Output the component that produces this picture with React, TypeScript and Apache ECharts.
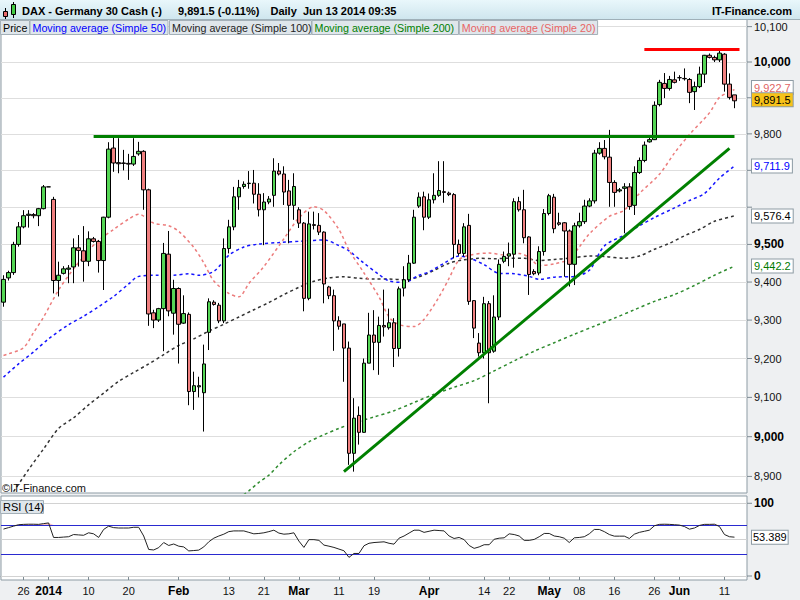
import React, { useEffect, useRef } from 'react';
import * as echarts from 'echarts';

// ---------- categories (daily sessions incl. Sunday sessions) ----------
const dec2013 = [20, 22, 23, 24, 26, 27, 29, 30, 31];
const jan2014 = [1, 2, 3, 5, 6, 7, 8, 9, 10, 12, 13, 14, 15, 16, 17, 19, 20, 21, 22, 23, 24, 27, 28, 29, 30, 31];
const feb2014 = [2, 3, 4, 5, 6, 7, 9, 10, 11, 12, 13, 14, 16, 17, 18, 19, 20, 21, 23, 24, 25, 26, 27, 28];
const mar2014 = [2, 3, 4, 5, 6, 7, 9, 10, 11, 12, 13, 14, 16, 17, 18, 19, 20, 21, 23, 24, 25, 26, 27, 28, 30, 31];
const apr2014 = [1, 2, 3, 4, 6, 7, 8, 9, 10, 11, 13, 14, 15, 16, 17, 21, 22, 23, 24, 25, 27, 28, 29, 30];
const may2014 = [1, 2, 4, 5, 6, 7, 8, 9, 11, 12, 13, 14, 15, 16, 18, 19, 20, 21, 22, 23, 25, 26, 27, 28, 29, 30];
const jun2014 = [1, 2, 3, 4, 5, 6, 8, 9, 10, 11, 12, 13];
const padDays = ['2014-06-15', '2014-06-16'];

// ---------- x tick labels ----------
const tickDates = ['2013-12-26', '2014-01-01', '2014-01-10', '2014-01-20', '2014-02-02', '2014-02-13', '2014-02-21', '2014-03-02', '2014-03-11', '2014-03-19', '2014-04-01', '2014-04-14', '2014-04-22', '2014-05-01', '2014-05-08', '2014-05-16', '2014-05-26', '2014-06-01', '2014-06-11'];
const tickTexts = ['26', '2014', '10', '20', 'Feb', '13', '21', 'Mar', '11', '19', 'Apr', '14', '22', 'May', '08', '16', '26', 'Jun', '11'];
const boldTickTexts = ['2014', 'Feb', 'Mar', 'Apr', 'May', 'Jun'];

// ---------- price OHLC ----------
const opens = [9347,9411,9425,9500,9547,9578,9580,9577,9596,9655, 9621,9404,9423,9434,9440,9491,9483,9455,9515,9508, 9457,9573,9761,9721,9720,9719,9717,9745,9752,9647, 9319,9300,9330,9474,9318,9383,9292,9315,9115,9127, 9112,9268,9347,9339,9298,9489,9547,9628,9656,9664, 9665,9635,9593,9614,9632,9698,9690,9644,9605,9593, 9557,9357,9553,9551,9533,9387,9364,9298,9290,9227, 8958,9054,9011,9188,9261,9242,9286,9280,9293,9226, 9384,9406,9450,9603,9628,9573,9620,9632,9642,9638, 9634,9500,9476,9551,9351,9240,9215,9343,9219,9308, 9455,9469,9474,9615,9593,9520,9428,9424,9481,9583, 9627,9558,9558,9536,9447,9550,9561,9603,9617,9747, 9760,9736,9667,9644,9651,9655,9605,9694,9727,9778, 9784,9881,9940,9926,9950,9956,9954,9951,9917,9931, 9966,10019,10013,10006,10022,9938,9908];
const closes = [9407,9425,9500,9547,9577,9581,9577,9596,9655,9655, 9404,9418,9435,9437,9491,9484,9455,9515,9508,9457, 9573,9758,9720,9718,9719,9717,9738,9752,9647,9316, 9300,9330,9476,9324,9383,9289,9317,9115,9130,9130, 9186,9348,9341,9298,9489,9547,9628,9653,9662,9665, 9635,9593,9614,9622,9698,9690,9641,9605,9656,9557, 9357,9555,9551,9533,9395,9364,9298,9284,9227,8958, 9047,9011,9188,9261,9242,9286,9282,9293,9226,9382, 9406,9450,9573,9627,9573,9620,9632,9645,9640,9634, 9500,9476,9547,9349,9279,9215,9343,9215,9308,9447, 9468,9475,9615,9593,9518,9420,9422,9481,9583,9631, 9542,9554,9536,9447,9550,9561,9603,9617,9747,9760, 9737,9667,9640,9647,9655,9602,9694,9727,9769,9784, 9879,9943,9926,9951,9943,9956,9953,9915,9931,9966, 10019,10013,10006,10025,9938,9901,9891.5];
const lows = [9335,9404,9419,9494,9543,9545,9570,9549,9594,9655, 9370,9362,9420,9397,9397,9441,9401,9442,9505,9425, 9379,9570,9696,9692,9700,9674,9712,9740,9593,9285, 9279,9295,9219,9310,9262,9187,9290,9080,9068,9100, 9013,9222,9338,9292,9292,9476,9538,9593,9650,9650, 9610,9575,9498,9608,9601,9686,9606,9503,9566,9544, 9323,9352,9540,9525,9344,9355,9220,9275,9140,8929, 8912,8980,9010,9188,9170,9158,9257,9275,9178,9205, 9362,9400,9448,9598,9538,9568,9610,9628,9612,9630, 9463,9470,9468,9340,9253,9205,9200,9085,9215,9300, 9450,9442,9438,9588,9503,9366,9418,9418,9470,9578, 9530,9550,9414,9388,9392,9545,9555,9600,9610,9743, 9730,9601,9601,9640,9530,9593,9579,9690,9722,9776, 9783,9876,9899,9920,9940,9947,9948,9885,9866,9927, 9941,10010,10000,10000,9917,9895,9871];
const highs = [9418,9430,9507,9560,9592,9592,9584,9598,9660,9655, 9628,9454,9442,9445,9516,9525,9549,9535,9520,9512, 9574,9777,9792,9788,9756,9745,9788,9778,9755,9650, 9327,9332,9504,9536,9406,9386,9365,9320,9166,9153, 9236,9357,9352,9345,9516,9566,9655,9674,9670,9698, 9701,9665,9638,9630,9733,9720,9711,9674,9692,9600, 9560,9588,9588,9584,9535,9390,9380,9310,9290,9244, 9098,9077,9200,9319,9326,9309,9380,9330,9305,9388, 9442,9472,9593,9640,9642,9637,9692,9725,9725,9642, 9638,9513,9557,9582,9352,9266,9361,9350,9365,9460, 9481,9505,9624,9628,9647,9522,9434,9495,9595,9636, 9636,9585,9560,9540,9558,9585,9620,9624,9756,9777, 9783,9811,9673,9652,9665,9665,9711,9735,9779,9791, 9890,9950,9969,9961,9973,9963,9982,9955,9945,9987, 10020,10024,10018,10034,10025,9968,9908];

// ---------- moving averages: [session index, value] ----------
const ma20 = [[0,9208],[1,9212],[4,9228],[6,9267],[8,9308],[11,9379],[14,9435],[17,9483],[19,9511],[22,9540],[25,9568],[27,9581],[30,9557],[33,9550],[35,9535],[38,9492],[40,9451],[42,9403],[45,9370],[47,9361],[49,9396],[52,9441],[56,9515],[59,9571],[62,9601],[64,9591],[67,9540],[69,9485],[72,9424],[75,9361],[77,9308],[79,9288],[82,9283],[84,9302],[87,9361],[89,9410],[91,9459],[93,9471],[97,9477],[100,9472],[103,9476],[105,9465],[107,9444],[110,9448],[113,9461],[115,9493],[117,9528],[121,9575],[124,9592],[127,9637],[131,9689],[134,9747],[137,9798],[141,9858],[143,9901],[146,9922.7]];
const ma50 = [[0,9152],[3,9186],[6,9217],[9,9251],[13,9288],[16,9310],[19,9335],[22,9362],[25,9395],[27,9415],[31,9418],[34,9418],[37,9422],[39,9418],[42,9428],[45,9471],[48,9493],[51,9501],[55,9505],[60,9509],[64,9512],[67,9497],[69,9483],[72,9450],[75,9420],[77,9403],[80,9399],[83,9418],[85,9427],[88,9450],[91,9469],[93,9464],[96,9446],[99,9423],[102,9422],[105,9415],[107,9407],[110,9413],[114,9415],[117,9431],[120,9496],[124,9525],[127,9550],[130,9572],[134,9598],[137,9618],[140,9637],[143,9679],[146,9711.9]];
const ma100 = [[2,8862],[5,8917],[8,8969],[11,9021],[14,9048],[17,9081],[20,9111],[23,9141],[26,9164],[29,9186],[32,9210],[35,9234],[38,9251],[41,9271],[44,9289],[47,9308],[50,9327],[53,9346],[56,9367],[59,9386],[62,9402],[65,9411],[68,9414],[71,9410],[74,9408],[77,9408],[80,9406],[83,9414],[86,9431],[89,9450],[92,9459],[95,9463],[98,9462],[101,9463],[104,9463],[107,9457],[110,9460],[113,9463],[117,9469],[120,9468],[124,9463],[127,9469],[130,9487],[133,9503],[136,9523],[139,9540],[142,9562],[146,9576.4]];
const ma200 = [[47,8845],[49,8864],[51,8885],[53,8903],[55,8929],[58,8962],[61,8987],[64,9005],[67,9021],[70,9035],[74,9050],[78,9066],[82,9087],[86,9108],[90,9126],[94,9143],[98,9168],[102,9194],[106,9219],[110,9241],[114,9263],[118,9284],[122,9305],[126,9327],[130,9349],[134,9367],[138,9391],[142,9418],[146,9442.2]];

// ---------- RSI(14) ----------
const rsi = [64.5,66.5,68.5,70.5,71,71.2,71.2,71,72,73, 53,53,53.5,54,57,56.5,56,59.4,58,53, 64,68.5,66.5,66,66,66,67,67,55,36.5, 35.8,39,46,42,44,41,40,34.5,35,35.6, 40,47,52,55,57.5,61,62,62,62,60, 58,58.5,59.4,61,63,59,57.5,58,59.4,48, 39.3,50,50,49,42.5,41,39.3,37,34.7,25.6, 31,31,41.6,45,46,46.5,47,45,43.8,52, 55,59,63,63,60,61.5,63,62.5,62,55, 51.6,53,50,42,38,40,43,43,50.5,52, 52.5,58,57,55,49,49,50.3,54,58.5,58.5, 55,54,52,46,52.5,53,54,58,64,64, 61,57,54.8,54.8,54.8,51.6,57.5,60,61.5,63, 69,71,71.2,71,70.5,70,68,64.4,66,69.5, 71,71,71.2,68,57,54,53.389];
const rsiLast = 53.389;
const rsiLevels = [0, 50, 100];
const rsiBands = [30, 70];

// ---------- axis ticks / annotations ----------
const priceTicks = [8900, 9000, 9100, 9200, 9300, 9400, 9500, 9600, 9700, 9800, 9900, 10000, 10100];
const boldPriceTicks = [9000, 9500, 10000];
const coveredPriceTicks = [9600, 9700, 9900]; // labels hidden behind the value boxes
const lastValues = [9922.7, 9891.5, 9711.9, 9576.4, 9442.2];
const lastTexts = ['9,922.7', '9,891.5', '9,711.9', '9,576.4', '9,442.2'];
const resistanceLevel = 9794; // green horizontal
const supportStart = [68, 8912]; // green rising trend line
const supportEnd = [145, 9760];
const highLevel = 10036; // red line at the top

const legendLabels = ['Price', 'Moving average (Simple 50)', 'Moving average (Simple 100)', 'Moving average (Simple 200)', 'Moving average (Simple 20)'];

const FONT = '"Liberation Sans", Arial, Helvetica, sans-serif';
const fmt = (v: number) => String(v).replace(/\B(?=(\d{3})+(?!\d))/g, ',');
const CLEAR = 'rgba(0,0,0,0)';

export default function App() {
  const ref = useRef<HTMLDivElement>(null);

  useEffect(() => {
    document.body.style.margin = '0';
    const el = ref.current!;
    const chart = echarts.init(el, null, { renderer: 'svg' });

    const categories = [
      ...dec2013.map((d) => `2013-12-${String(d).padStart(2, '0')}`),
      ...jan2014.map((d) => `2014-01-${String(d).padStart(2, '0')}`),
      ...feb2014.map((d) => `2014-02-${String(d).padStart(2, '0')}`),
      ...mar2014.map((d) => `2014-03-${String(d).padStart(2, '0')}`),
      ...apr2014.map((d) => `2014-04-${String(d).padStart(2, '0')}`),
      ...may2014.map((d) => `2014-05-${String(d).padStart(2, '0')}`),
      ...jun2014.map((d) => `2014-06-${String(d).padStart(2, '0')}`),
      ...padDays,
    ];
    const tickMap = new Map<string, string>();
    tickDates.forEach((d, i) => tickMap.set(d, tickTexts[i]));
    const tickIdx = new Set(tickDates.map((d) => categories.indexOf(d)));

    const candleData = opens.map((o, i) => [o, closes[i], lows[i], highs[i]]);

    const PRICE_MIN = 8858.6;
    const PRICE_MAX = 10121.7;

    const tickRich = {
      t: { width: 5, height: 1, backgroundColor: '#7d8a92', verticalAlign: 'middle' },
      n: { fontSize: 11, color: '#111', fontFamily: FONT, padding: [0, 0, 0, 2] },
      b: { fontSize: 12, fontWeight: 'bold', color: '#000', fontFamily: FONT, padding: [0, 0, 0, 2] },
    };

    const priceGrid = priceTicks.map((v) => ({
      yAxis: v,
      label: coveredPriceTicks.includes(v)
        ? { formatter: '{t|}' }
        : { formatter: `{t|}{${boldPriceTicks.includes(v) ? 'b' : 'n'}|${fmt(v)}}` },
    }));

    const boxText = ['#e06464', '#000', '#0000ff', '#000', '#007a00'];
    const boxBg = ['#ffffff', '#f7c21a', '#ffffff', '#ffffff', '#ffffff'];
    const boxOffset = [-2, -1, 0, 0, 0];
    const valueBoxes = lastValues.map((v, i) => ({
      yAxis: v,
      label: {
        formatter: lastTexts[i],
        color: boxText[i],
        backgroundColor: boxBg[i],
        offset: [0, boxOffset[i]],
      },
    }));

    const rsiGrid = [
      ...rsiLevels.map((v) => ({
        yAxis: v,
        lineStyle: { color: '#d2d2d2' },
        label: v === 50 ? { show: false } : { formatter: `{t|}{b|${v}}` },
      })),
      ...rsiBands.map((v) => ({ yAxis: v, lineStyle: { color: '#2a2ad0' }, label: { show: false } })),
    ];

    const legendX = [0.5, 30, 169.5, 312, 459.3];
    const legendW = [29, 138, 142, 146.5, 138.3];
    const legendColors = ['#000', '#0000ff', '#222', '#008000', '#e86464'];

    const graphic: any[] = [
      {
        type: 'rect', z: 100, shape: { x: 0, y: 0, width: 800, height: 19 },
        style: { fill: { type: 'linear', x: 0, y: 0, x2: 0, y2: 1, colorStops: [{ offset: 0, color: '#e9f7fb' }, { offset: 1, color: '#cfe6ee' }] } },
      },
      { type: 'line', z: 100, shape: { x1: 0, y1: 19.5, x2: 800, y2: 19.5 }, style: { stroke: '#9fb0b8', lineWidth: 1 } },
      { type: 'line', z: 101, shape: { x1: 5.5, y1: 8, x2: 5.5, y2: 19 }, style: { stroke: '#000', lineWidth: 1 } },
      { type: 'rect', z: 101, shape: { x: 3.5, y: 11.5, width: 4, height: 5 }, style: { fill: '#e86a6a', stroke: '#000', lineWidth: 1 } },
      { type: 'line', z: 101, shape: { x1: 13.5, y1: 2, x2: 13.5, y2: 18 }, style: { stroke: '#000', lineWidth: 1 } },
      { type: 'rect', z: 101, shape: { x: 11.5, y: 4.5, width: 4, height: 10 }, style: { fill: '#44cc44', stroke: '#000', lineWidth: 1 } },
      { type: 'text', z: 101, x: 22, y: 11, style: { text: 'DAX - Germany 30 Cash (-)', font: `bold 11px ${FONT}`, fill: '#000', textVerticalAlign: 'middle' } },
      { type: 'text', z: 101, x: 178, y: 11, style: { text: '9,891.5 (-0.11%)', font: `bold 11px ${FONT}`, fill: '#000', textVerticalAlign: 'middle' } },
      { type: 'text', z: 101, x: 270.5, y: 11, style: { text: 'Daily  Jun 13 2014 09:35', font: `bold 11px ${FONT}`, fill: '#000', textVerticalAlign: 'middle' } },
      { type: 'text', z: 101, x: 792, y: 11, style: { text: 'IT-Finance.com', font: `bold 11px ${FONT}`, fill: '#000', textAlign: 'right', textVerticalAlign: 'middle' } },
      { type: 'text', z: 101, x: 2, y: 488, style: { text: '©IT-Finance.com', font: `11px ${FONT}`, fill: '#111', textVerticalAlign: 'middle' } },
      { type: 'rect', z: 101, shape: { x: 0.5, y: 500.5, width: 43, height: 13 }, style: { fill: '#dfe6eb', stroke: '#a4b0b8', lineWidth: 1 } },
      { type: 'text', z: 102, x: 3, y: 507, style: { text: 'RSI (14)', font: `11px ${FONT}`, fill: '#000', textVerticalAlign: 'middle' } },
    ];
    legendLabels.forEach((label, i) => {
      graphic.push({ type: 'rect', z: 101, shape: { x: legendX[i], y: 20.5, width: legendW[i], height: 14 }, style: { fill: '#dfe6eb', stroke: '#a4b0b8', lineWidth: 1 } });
      graphic.push({ type: 'text', z: 102, x: legendX[i] + 2.5, y: 27.5, style: { text: label, font: `10.7px ${FONT}`, fill: legendColors[i], textVerticalAlign: 'middle' } });
    });

    const maLine = (name: string, data: number[][], color: string, markLine?: any) => ({
      type: 'line', name, xAxisIndex: 0, yAxisIndex: 0, data, showSymbol: false, smooth: 0.3, z: 2,
      lineStyle: { color, width: 1.5, type: [3, 3] }, silent: true,
      ...(markLine ? { markLine } : {}),
    });

    const option: any = {
      animation: false,
      backgroundColor: '#eef0f2',
      textStyle: { fontFamily: FONT },
      graphic,
      grid: [
        { left: 1, top: 19, width: 746, height: 474, show: true, backgroundColor: '#ffffff', borderColor: '#8d9ba4', borderWidth: 1 },
        { left: 1, top: 496, width: 746, height: 84, show: true, backgroundColor: '#ffffff', borderColor: '#8d9ba4', borderWidth: 1 },
      ],
      xAxis: [
        { type: 'category', gridIndex: 0, data: categories, show: false, boundaryGap: true },
        {
          type: 'category', gridIndex: 1, data: categories, boundaryGap: true,
          axisLine: { show: true, lineStyle: { color: '#8d9ba4' } },
          axisTick: { show: true, alignWithLabel: true, interval: (i: number) => tickIdx.has(i), length: 4, lineStyle: { color: '#7d8a92' } },
          axisLabel: {
            interval: (i: number) => tickIdx.has(i),
            margin: 5,
            formatter: (v: string) => {
              const t = tickMap.get(v) || '';
              return boldTickTexts.includes(t) ? `{b|${t}}` : `{n|${t}}`;
            },
            rich: {
              b: { fontSize: 12, fontWeight: 'bold', color: '#000', fontFamily: FONT },
              n: { fontSize: 11, color: '#111', fontFamily: FONT },
            },
          },
          splitLine: { show: false },
        },
      ],
      yAxis: [
        { type: 'log', logBase: 10, gridIndex: 0, min: PRICE_MIN, max: PRICE_MAX, show: false },
        { type: 'value', gridIndex: 1, min: -5.5, max: 110, show: false },
      ],
      series: [
        {
          type: 'candlestick', name: 'Price', xAxisIndex: 0, yAxisIndex: 0, data: candleData, barWidth: 4, z: 3, silent: true,
          itemStyle: { color: '#55d655', color0: '#f08080', borderColor: '#000', borderColor0: '#000', borderColorDoji: '#000', borderWidth: 1 },
          markLine: {
            z: 5, silent: true, symbol: ['none', 'none'], label: { show: false },
            lineStyle: { type: 'solid' },
            data: [
              [{ coord: [18, resistanceLevel], lineStyle: { color: '#008000', width: 3, type: 'solid' } }, { coord: [146, resistanceLevel] }],
              [{ coord: supportStart, lineStyle: { color: '#008000', width: 3, type: 'solid' } }, { coord: supportEnd }],
              [{ coord: [128, highLevel], lineStyle: { color: '#ff0000', width: 3, type: 'solid' } }, { coord: [147, highLevel] }],
            ],
          },
        },
        maLine('Moving average (Simple 200)', ma200, '#2e8b2e', {
          z: 1, silent: true, symbol: ['none', 'none'],
          lineStyle: { color: '#dedede', width: 1, type: 'solid' },
          label: { show: true, position: 'end', distance: 0, rich: tickRich },
          data: priceGrid,
        }),
        maLine('Moving average (Simple 100)', ma100, '#333333'),
        maLine('Moving average (Simple 50)', ma50, '#1515ff'),
        maLine('Moving average (Simple 20)', ma20, '#ec7c7c', {
          z: 6, silent: true, symbol: ['none', 'none'],
          lineStyle: { color: CLEAR, width: 1, type: 'solid' },
          label: {
            show: true, position: 'end', distance: 5, fontSize: 11, fontFamily: FONT, lineHeight: 12,
            padding: [1, 2, 0, 2], borderColor: '#8d9ba4', borderWidth: 1,
          },
          data: valueBoxes,
        }),
        {
          type: 'line', name: 'RSI over', xAxisIndex: 1, yAxisIndex: 1, data: rsi.map((v) => Math.max(v, 70)),
          showSymbol: false, silent: true, z: 1, lineStyle: { width: 0, color: CLEAR },
          areaStyle: { origin: 70, color: '#f2a4a4' },
          markLine: {
            z: 6, silent: true, symbol: ['none', 'none'],
            lineStyle: { color: CLEAR, width: 1, type: 'solid' },
            label: {
              show: true, position: 'end', distance: 5, fontSize: 11, fontFamily: FONT, color: '#000', lineHeight: 12,
              backgroundColor: '#fff', padding: [1, 1, 0, 1], borderColor: '#8d9ba4', borderWidth: 1, formatter: String(rsiLast),
            },
            data: [{ yAxis: rsiLast }],
          },
        },
        {
          type: 'line', name: 'RSI (14)', xAxisIndex: 1, yAxisIndex: 1, data: rsi, showSymbol: false, silent: true, z: 3,
          lineStyle: { color: '#222', width: 1 },
          markLine: {
            z: 1, silent: true, symbol: ['none', 'none'],
            lineStyle: { color: '#d2d2d2', width: 1, type: 'solid' },
            label: { show: true, position: 'end', distance: 0, rich: tickRich },
            data: rsiGrid,
          },
        },
      ],
    };

    chart.setOption(option);
    return () => chart.dispose();
  }, []);

  return <div ref={ref} style={{ width: 800, height: 600 }} />;
}
